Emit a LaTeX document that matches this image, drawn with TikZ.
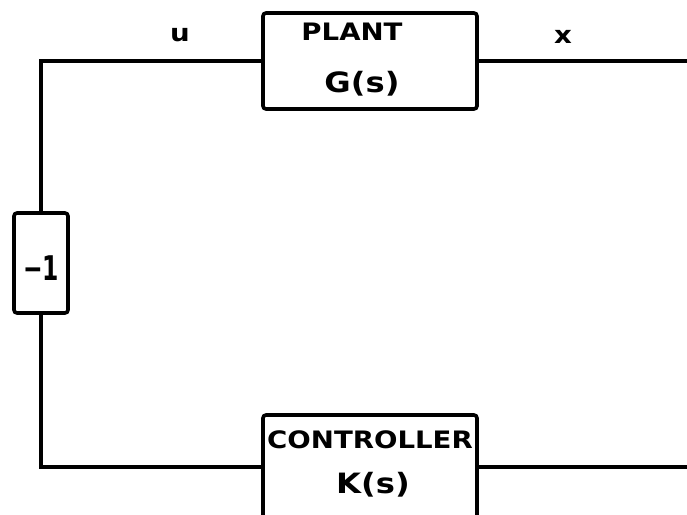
\documentclass[tikz,border=0pt]{standalone}
\usepackage{fontspec}
\usepackage{tikz}
\usetikzlibrary{calc}
\newfontfamily\blockfont{DejaVu Sans}[FakeStretch=1.15]

\begin{document}
\begin{tikzpicture}[
    x=1pt, y=-1pt,
    blk/.style={draw, line width=3.6pt, rounded corners=3pt, inner sep=0pt},
    wire/.style={line width=4pt},
    lbl/.style={font=\blockfont\bfseries\fontsize{24}{24}\selectfont, inner sep=0pt},
    tf/.style={font=\blockfont\bfseries\fontsize{28}{28}\selectfont, inner sep=0pt},
]
\clip (0,0) rectangle (687,514);
\fill[white] (0,0) rectangle (687,514);

% -- blocks --
\node[blk, minimum width=214pt, minimum height=96pt] (plant) at (370,61) {};
\node[blk, minimum width=214pt, minimum height=104pt] (ctrl) at (370,467) {};
\node[blk, minimum width=54pt, minimum height=100pt] (neg) at (41,263) {};

% -- block texts --
\node[lbl] (planttxt) at (352,32) {PLANT};
\node[tf] (gs) at (362,84) {G(s)};
\node[lbl] (ctrltxt) at (370,440) {CONTROLLER};
\node[tf] (ks) at (373,485) {K(s)};
\node[font=\blockfont\bfseries\fontsize{34}{34}\selectfont, inner sep=0pt] (negtxt) at (41,268) {\scalebox{0.6}[1]{\char"2212 1}};

% -- signal labels --
\node[lbl] (ulbl) at (180,35) {u};
\node[lbl] (xlbl) at (563,37) {x};

% -- wires --
\coordinate (xout) at (687,61);
\coordinate (kout) at (687,467);
\draw[wire] (plant.east) -- (xout);
\draw[wire] (ctrl.east) -- (kout);
\draw[wire] (plant.west) -| (neg.north);
\draw[wire] (neg.south) |- (ctrl.west);

\end{tikzpicture}
\end{document}
